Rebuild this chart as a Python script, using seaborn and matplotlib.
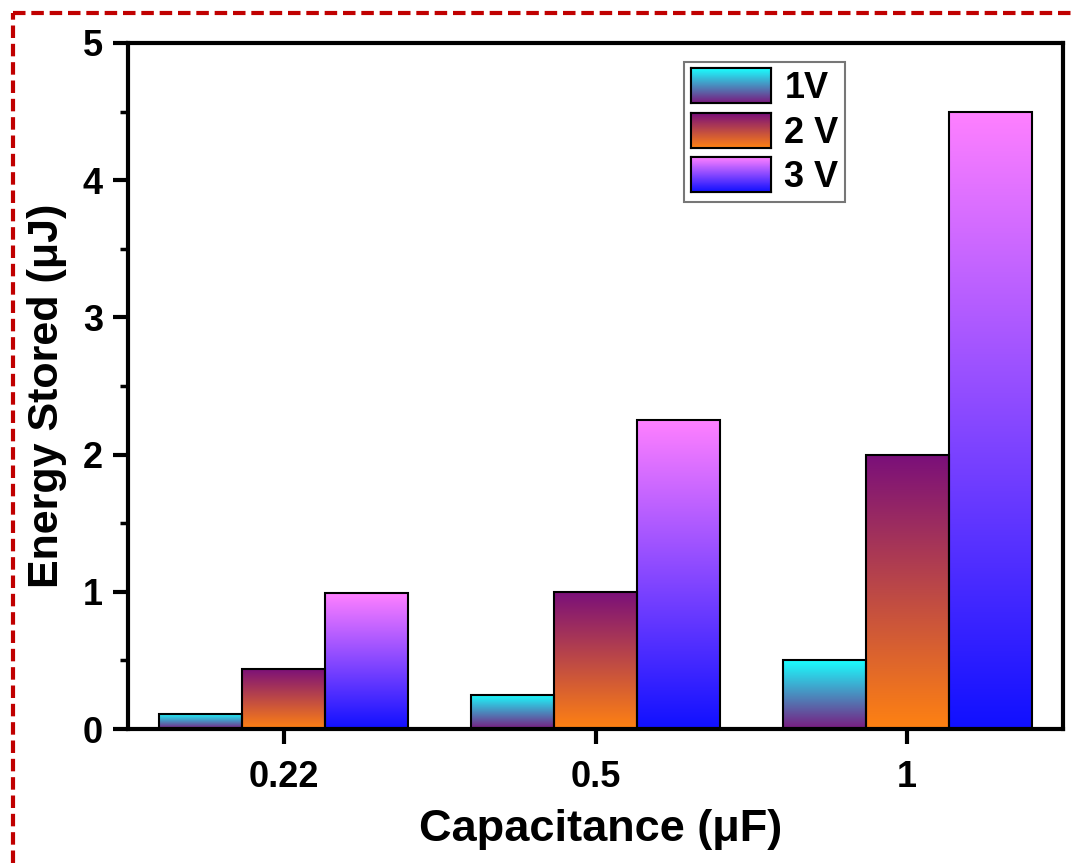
import numpy as np
import pandas as pd
import matplotlib
matplotlib.use("Agg")
import matplotlib.pyplot as plt
import seaborn as sns
from matplotlib.colors import LinearSegmentedColormap
from matplotlib.lines import Line2D
from matplotlib.ticker import MultipleLocator

capacitance = ["0.22", "0.5", "1"]
voltages = ["1V", "2 V", "3 V"]
energy_1v = [0.11, 0.25, 0.5]
energy_2v = [0.44, 1.0, 2.0]
energy_3v = [0.99, 2.25, 4.5]

# gradient colours (top, bottom) for each series
grad_colors = {
    "1V": ("#1affff", "#7a1a7e"),
    "2 V": ("#7a0f7a", "#ff8212"),
    "3 V": ("#ff80ff", "#1010ff"),
}

rows = []
for v, vals in zip(voltages, [energy_1v, energy_2v, energy_3v]):
    for c, e in zip(capacitance, vals):
        rows.append({"cap": c, "volt": v, "energy": e})
df = pd.DataFrame(rows)

sns.set_theme(style="white")
plt.rcParams["font.family"] = ["Liberation Sans", "DejaVu Sans"]
plt.rcParams["font.weight"] = "bold"
for k in ["text.color", "axes.labelcolor", "xtick.color", "ytick.color"]:
    plt.rcParams[k] = "black"

W, H = 1072, 863
L, R, T, B = 128, 1063, 43, 729
fig = plt.figure(figsize=(W / 100, H / 100), dpi=100)
ax = fig.add_axes([L / W, 1 - B / H, (R - L) / W, (B - T) / H])

sns.barplot(data=df, x="cap", y="energy", hue="volt", order=capacitance,
            hue_order=voltages, width=0.8, gap=0, ax=ax, legend=True,
            edgecolor="black", linewidth=1.5, saturation=1)

# replace flat fills with vertical gradients
bar_patches = [p for p in ax.patches if p.get_height() > 0]
for i, p in enumerate(bar_patches):
    v = voltages[i // len(capacitance)]
    top, bot = grad_colors[v]
    cmap = LinearSegmentedColormap.from_list("g", [bot, top])
    x0, w, h = p.get_x(), p.get_width(), p.get_height()
    grad = np.linspace(0, 1, 256).reshape(-1, 1)
    im = ax.imshow(grad, cmap=cmap, origin="lower", aspect="auto",
                   extent=(x0, x0 + w, 0, h), zorder=2, interpolation="bilinear")
    im.set_clip_path(p)
    p.set_facecolor("none")
    p.set_zorder(3)

ax.set_xlim(-0.5, 2.5)
ax.set_ylim(0, 5)
ax.yaxis.set_major_locator(MultipleLocator(1))
ax.yaxis.set_minor_locator(MultipleLocator(0.5))

for s in ax.spines.values():
    s.set_visible(True)
    s.set_linewidth(3)
    s.set_color("black")

ax.tick_params(axis="both", which="major", direction="out", length=11, width=3,
               labelsize=26, color="black", bottom=True, left=True, top=False, right=False)
ax.tick_params(axis="x", which="major", pad=11)
ax.tick_params(axis="y", which="major", pad=7)
ax.tick_params(axis="y", which="minor", direction="out", length=6, width=2.5,
               color="black", left=True)
for lab in ax.get_xticklabels() + ax.get_yticklabels():
    lab.set_fontweight("bold")

ax.set_xlabel("Capacitance (μF)", fontsize=32.5, fontweight="bold")
ax.set_ylabel("Energy Stored (μJ)", fontsize=31, fontweight="bold")
ax.xaxis.set_label_coords(0.505, (B - 809) / (B - T))
ax.yaxis.set_label_coords((67 - L) / (R - L), (B - 396) / (B - T))

leg = ax.legend(loc="upper left", bbox_to_anchor=((684 - L) / (R - L), 1 - (62 - T) / (B - T)),
                fontsize=26, frameon=True, fancybox=False, edgecolor="#555555",
                handlelength=2.24, handleheight=1.1, labelspacing=0.19,
                handletextpad=0.36, borderpad=0.18, borderaxespad=0)
leg.get_frame().set_linewidth(1.5)
for t in leg.get_texts():
    t.set_fontweight("bold")

fig.canvas.draw()
renderer = fig.canvas.get_renderer()
inv = fig.transFigure.inverted()
for h, v in zip(leg.legend_handles, voltages):
    bb = h.get_window_extent(renderer)
    (fx0, fy0), (fx1, fy1) = inv.transform([(bb.x0, bb.y0), (bb.x1, bb.y1)])
    iax = fig.add_axes([fx0, fy0, fx1 - fx0, fy1 - fy0])
    top, bot = grad_colors[v]
    cmap = LinearSegmentedColormap.from_list("g", [bot, top])
    iax.imshow(np.linspace(0, 1, 64).reshape(-1, 1), cmap=cmap, origin="lower",
               aspect="auto", interpolation="bilinear")
    iax.set_xticks([])
    iax.set_yticks([])
    for s in iax.spines.values():
        s.set_visible(True)
        s.set_linewidth(1.5)
        s.set_color("black")

# red dashed border (top and left)
red = "#c00000"
bx, by = 13 / W, 1 - 13 / H
style = (0, (3.0, 1.4))
fig.add_artist(Line2D([bx, 1], [by, by], transform=fig.transFigure,
                      color=red, lw=3, linestyle=style))
fig.add_artist(Line2D([bx, bx], [0, by], transform=fig.transFigure,
                      color=red, lw=3, linestyle=style))

fig.savefig("out.png", dpi=100, facecolor="white")
